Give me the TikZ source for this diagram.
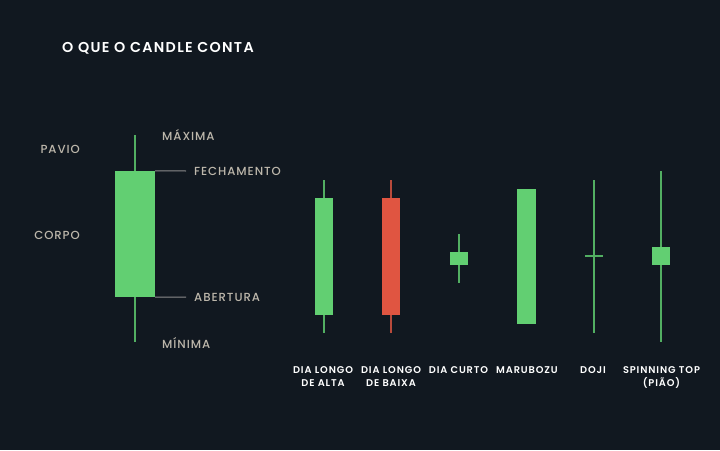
\documentclass[tikz,border=0pt]{standalone}
\usepackage{fontspec}
\setmainfont{Poppins}[LetterSpace=8]
\newfontfamily\medfont{Poppins Medium}[LetterSpace=8]
\newfontfamily\semifont{Poppins SemiBold}[LetterSpace=9]
\usetikzlibrary{positioning}
\definecolor{fundo}{HTML}{111820}
\definecolor{verde}{HTML}{62CF72}
\definecolor{paviov}{HTML}{52AE62}
\definecolor{vermelho}{HTML}{E05541}
\definecolor{paviour}{HTML}{B94A3B}
\definecolor{cinza}{HTML}{BDB7AB}
\definecolor{traco}{HTML}{8C8C8C}

\begin{document}
\begin{tikzpicture}[x=1pt,y=-1pt,
  vela/.style={fill=#1,draw=none,minimum width=18pt,inner sep=0pt},
  pav/.style={#1,line width=1.5pt},
  rot/.style={text=cinza,font=\medfont\fontsize{11.7}{13}\selectfont,inner sep=0pt},
  nome/.style={text=white,font=\semifont\fontsize{9.8}{13}\selectfont,align=center,inner sep=0pt},
  guia/.style={traco,line width=1pt}]
\useasboundingbox[fill=fundo] (0,0) rectangle (720,450);

\node[anchor=west,text=white,font=\semifont\fontsize{14.3}{16}\selectfont,inner sep=0pt] (titulo) at (62,48) {O QUE O CANDLE CONTA};

\draw[pav=paviov,line width=2pt] (135,135) -- (135,342);
\node[vela=verde,minimum width=40pt,minimum height=126pt] (corpo) at (135,234) {};
\node[rot,anchor=west] (max) at (162,135) {MÁXIMA};
\node[rot,anchor=west] (fech) at (194,171) {FECHAMENTO};
\node[rot,anchor=west] (abert) at (194,297) {ABERTURA};
\node[rot,anchor=west] (min) at (162,343) {MÍNIMA};
\node[rot,anchor=east] (pavio) at (80,149) {PAVIO};
\node[rot,anchor=east] (corpolbl) at (80,235) {CORPO};
\draw[guia] (corpo.north east) -- ([xshift=-8pt]fech.west);
\draw[guia] (corpo.south east) -- ([xshift=-8pt]abert.west);

\draw[pav=paviov] (324,180) -- (324,333);
\node[vela=verde,minimum height=117pt] (alta) at (324,256.5) {};
\draw[pav=paviour] (391,180) -- (391,333);
\node[vela=vermelho,minimum height=117pt] (baixa) at (391,256.5) {};
\draw[pav=paviov] (459,234) -- (459,283);
\node[vela=verde,minimum height=13pt] (curto) at (459,258.5) {};
\node[vela=verde,minimum width=19pt,minimum height=135pt] (maru) at (526.5,256.5) {};
\draw[pav=paviov] (594,180) -- (594,333);
\draw[pav=paviov] (585,256) -- (603,256);
\coordinate (doji) at (594,256);
\draw[pav=paviov] (661,171) -- (661,342);
\node[vela=verde,minimum height=18pt] (piao) at (661,256) {};

\node[nome,anchor=north] (n1) at (323,366) {DIA LONGO\\DE ALTA};
\node[nome,anchor=north] (n2) at (391,366) {DIA LONGO\\DE BAIXA};
\node[nome,anchor=north] (n3) at (458.5,366) {DIA CURTO};
\node[nome,anchor=north] (n4) at (527,366) {MARUBOZU};
\node[nome,anchor=north] (n5) at (593,366) {DOJI};
\node[nome,anchor=north] (n6) at (661.5,366) {SPINNING TOP\\(PIÃO)};
\end{tikzpicture}
\end{document}
